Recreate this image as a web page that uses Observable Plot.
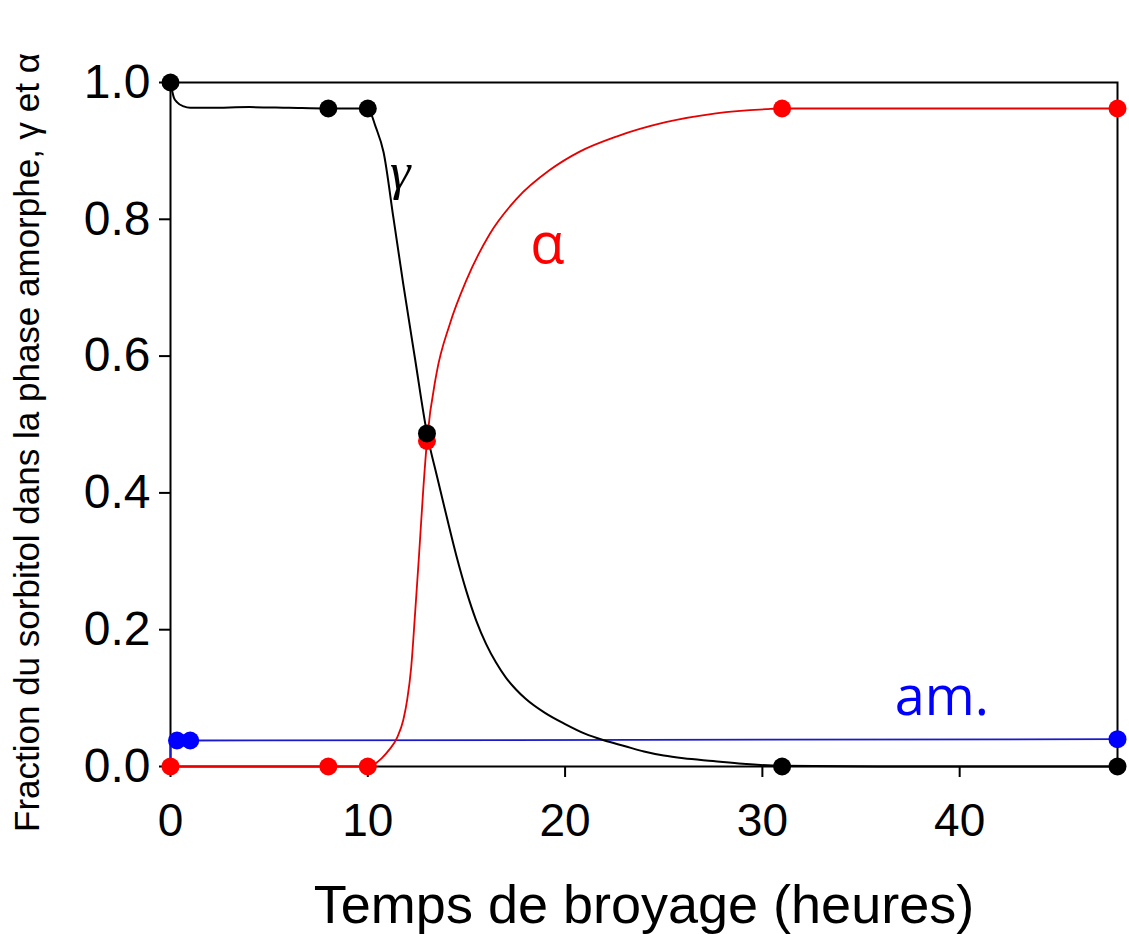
<!DOCTYPE html>
<html>
<head>
<meta charset="utf-8">
<script src="https://cdn.jsdelivr.net/npm/d3@7"></script>
<script src="https://cdn.jsdelivr.net/npm/@observablehq/plot@0.6"></script>
<style>
  html, body { margin: 0; padding: 0; background: #ffffff; }
  #chart { width: 1129px; height: 934px; }
</style>
</head>
<body>
<div id="chart"></div>
<script>
// ---- Measured points (markers) ----
const gammaPtsT = [0, 8, 10, 13, 31, 48];
const gammaPtsV = [1.0, 0.962, 0.962, 0.487, 0.0, 0.0];
const alphaPtsT = [0, 8, 10, 13, 31, 48];
const alphaPtsV = [0.0, 0.0, 0.0, 0.476, 0.962, 0.962];
const amPtsT = [0.33, 1, 48];
const amPtsV = [0.038, 0.038, 0.040];

// ---- Fitted curves ----
const gammaCurveT = [0, 0.17, 0.34, 0.67, 1, 2, 4, 6, 8, 10, 10.4, 10.8, 11.3, 11.8, 12.4, 13, 13.5, 14, 14.5, 15, 15.5, 16, 16.5, 17, 17.5, 18, 19, 20, 21, 22, 23, 24, 25, 26, 27.5, 29, 31, 36, 42, 48];
const gammaCurveV = [1.0, 0.978, 0.971, 0.965, 0.963, 0.963, 0.964, 0.963, 0.962, 0.962, 0.935, 0.898, 0.802, 0.705, 0.595, 0.487, 0.425, 0.365, 0.307, 0.256, 0.213, 0.179, 0.152, 0.130, 0.113, 0.099, 0.078, 0.062, 0.048, 0.038, 0.030, 0.022, 0.016, 0.012, 0.008, 0.004, 0.001, 0.0, 0.0, 0.0];
const alphaCurveT = [0, 4, 8, 10, 10.3, 10.7, 11.1, 11.5, 11.8, 12.0, 12.2, 12.4, 12.6, 12.8, 13.0, 13.48, 14.16, 15.0, 16.19, 17.54, 19.22, 20.74, 22.6, 25.1, 27.65, 30.2, 31, 40, 48];
const alphaCurveV = [0, 0, 0, 0, 0.003, 0.012, 0.025, 0.043, 0.068, 0.098, 0.145, 0.225, 0.31, 0.40, 0.476, 0.574, 0.647, 0.711, 0.779, 0.830, 0.872, 0.899, 0.921, 0.942, 0.955, 0.961, 0.962, 0.962, 0.962];
const amCurveT = [0, 0, 0.33, 1, 48];
const amCurveV = [0, 0.038, 0.038, 0.038, 0.040];

// ---- Axes ----
const xTicks = [0, 10, 20, 30, 40];
const yTicks = [0, 0.2, 0.4, 0.6, 0.8, 1.0];
const xTitle = "Temps de broyage (heures)";
const yTitle = "Fraction du sorbitol dans la phase amorphe, \u03b3 et \u03b1";

// ---- In-plot labels ----
const labelText = ["\u03b3", "\u03b1", "am."];
const labelT = [11.65, 19.1, 39.1];
const labelV = [0.868, 0.762, 0.10];

const zip = (ts, vs) => ts.map((t, i) => ({t, v: vs[i]}));
const gammaCurve = zip(gammaCurveT, gammaCurveV);
const alphaCurve = zip(alphaCurveT, alphaCurveV);
const amCurve = zip(amCurveT, amCurveV);
const gammaPts = zip(gammaPtsT, gammaPtsV);
const alphaPts = zip(alphaPtsT, alphaPtsV);
const amPts = zip(amPtsT, amPtsV);
const labels = labelText.map((s, i) => ({s, t: labelT[i], v: labelV[i]}));

const SANS = "Liberation Sans, Arial, sans-serif";
const BLACK = "#000000", RED = "#e60000", BLUE = "#0000ff";

const chart = Plot.plot({
  width: 1129,
  height: 934,
  marginLeft: 170,
  marginRight: 12,
  marginTop: 82,
  marginBottom: 168,
  style: { fontFamily: SANS, background: "#ffffff", color: "#000" },
  x: { domain: [0, 48] },
  y: { domain: [0, 1] },
  marks: [
    Plot.frame({ stroke: BLACK, strokeWidth: 2 }),
    Plot.axisY({ ticks: yTicks, tickFormat: d3.format(".1f"), tickSize: 11, tickPadding: 9, fontSize: 48,
                 fontFamily: SANS, strokeWidth: 2, label: null }),
    Plot.axisX({ ticks: xTicks, tickSize: 11, tickPadding: 26, fontSize: 46, fontFamily: SANS,
                 strokeWidth: 2, label: null }),
    Plot.text([xTitle], { frameAnchor: "bottom", dy: 139, fontSize: 54, textAnchor: "middle", lineAnchor: "middle",
                 fontFamily: SANS }),
    Plot.text([yTitle], { frameAnchor: "left", rotate: -90, dx: -143, dy: 18, fontSize: 35, textAnchor: "middle", lineAnchor: "middle",
                 fontFamily: SANS }),
    Plot.line(amCurve, { x: "t", y: "v", stroke: "#1a1acc", strokeWidth: 1.8 }),
    Plot.line(alphaCurve, { x: "t", y: "v", stroke: RED, strokeWidth: 1.8, curve: "monotone-x" }),
    Plot.line(gammaCurve, { x: "t", y: "v", stroke: BLACK, strokeWidth: 2, curve: "monotone-x" }),
    Plot.dot(alphaPts, { x: "t", y: "v", r: 9, fill: "#ff0000" }),
    Plot.dot(gammaPts, { x: "t", y: "v", r: 9, fill: BLACK }),
    Plot.dot(amPts, { x: "t", y: "v", r: 9, fill: BLUE }),
    Plot.text(labels.filter(d => d.s === "\u03b3"), { x: "t", y: "v", text: "s", fill: BLACK, fontSize: 52,
                 fontStyle: "italic", fontFamily: "Liberation Serif, DejaVu Serif, serif" }),
    Plot.text(labels.filter(d => d.s === "\u03b1"), { x: "t", y: "v", text: "s", fill: "#ff0000", fontSize: 56,
                 fontFamily: "Open Sans, Liberation Sans, sans-serif" }),
    Plot.text(labels.filter(d => d.s === "am."), { x: "t", y: "v", text: "s", fill: BLUE, fontSize: 54,
                 fontFamily: "Open Sans, Liberation Sans, sans-serif" })
  ]
});
document.getElementById("chart").appendChild(chart);
</script>
</body>
</html>
